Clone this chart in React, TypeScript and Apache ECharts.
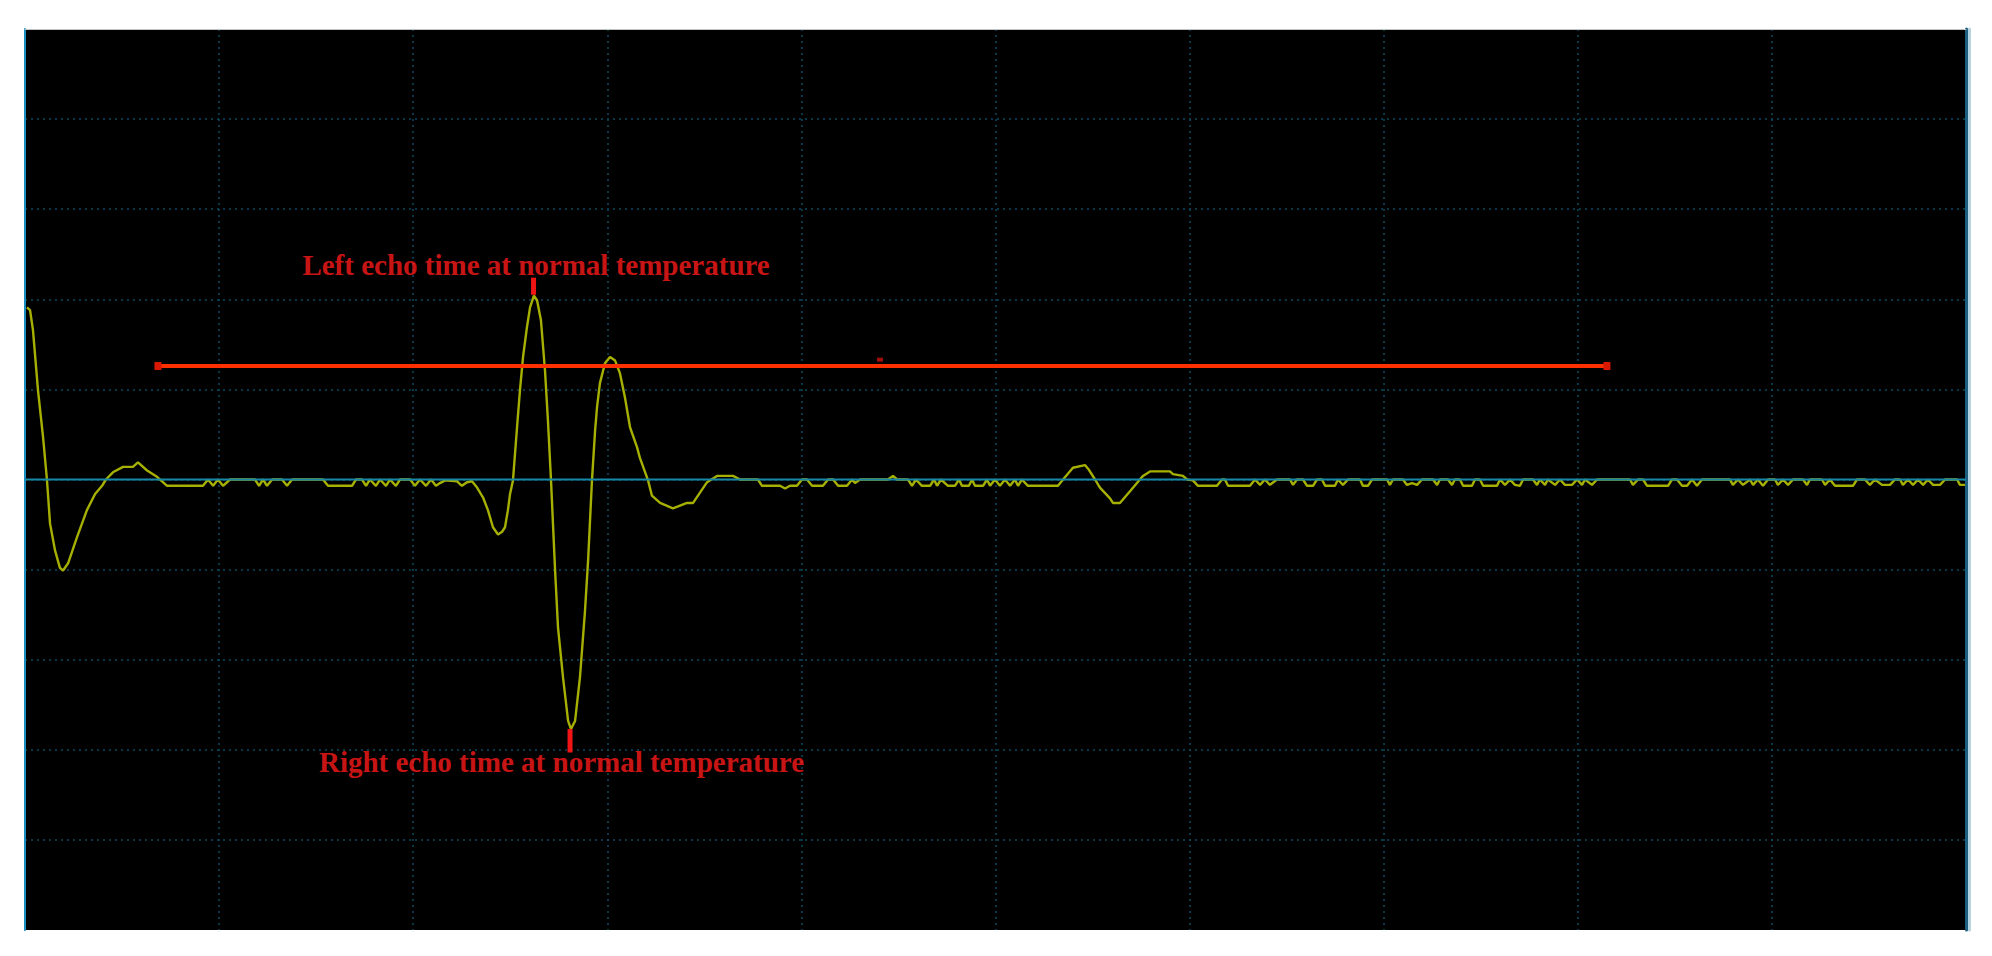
import React, { useEffect, useRef } from "react";
import * as echarts from "echarts";

// x: sample time (0..1000, 100 per division); y: amplitude (100 per division)
const initialPulse: [number, number][] = [
  [1.0, 191], [2.6, 188], [4.1, 166], [6.7, 99], [9.3, 47], [11.3, 0], [12.9, -49], [15.5, -79],
  [18.0, -98], [19.6, -101], [22.2, -93], [26.8, -64], [31.9, -34], [36.1, -16], [39.7, -7], [41.7, 0],
  [45.3, 8], [50.5, 14], [55.6, 14], [58.2, 19], [62.9, 10], [68.0, 3], [73.2, -7], [91.7, -7],
];

const noiseBeforeEcho: [number, number][] = [
  [94.3, 0], [96.9, -7], [99.4, 0], [102.0, -7], [105.6, 0], [118.5, 0], [120.6, -7], [122.6, 0],
  [124.7, -7], [127.3, 0], [132.4, 0], [135.0, -7], [137.6, 0], [153.5, 0], [156.1, -7], [168.5, -7],
  [170.5, 0], [173.6, 0], [175.7, -7], [177.7, 0], [180.8, -7], [182.9, 0], [186.0, -7], [188.0, 0],
  [191.1, -7], [193.2, 0], [198.4, 0], [200.9, -7], [203.5, 0], [206.6, -7], [209.2, 0], [211.7, -7],
  [213.8, -4], [216.4, -1], [222.6, -2], [225.1, -7], [227.7, -3], [230.3, -2], [232.9, -9],
];

const mainEcho: [number, number][] = [
  [236.0, -20], [238.5, -34], [241.1, -53], [243.7, -61], [245.8, -58], [247.3, -53], [248.8, -34],
  [249.9, -16], [251.4, -1], [253.5, 58], [255.0, 99], [256.6, 136], [258.6, 169], [260.2, 191],
  [262.2, 204], [263.8, 199], [265.8, 177], [267.9, 121], [269.4, 66], [271.0, -1], [273.1, -101],
  [274.6, -164], [277.2, -220], [279.8, -268], [281.3, -277], [283.4, -268], [285.9, -220],
  [288.5, -146], [290.1, -90], [292.1, -1], [293.7, 54], [294.7, 80], [296.2, 107], [298.8, 129],
  [301.4, 136], [304.0, 132], [306.5, 118], [309.1, 91], [311.7, 58], [315.3, 36], [316.8, 24],
  [321.0, -1], [323.0, -18], [327.2, -26], [333.8, -32], [341.1, -26], [344.2, -26], [351.4, -3],
  [356.5, 4], [364.8, 4], [368.4, 0],
];

const noiseMiddle: [number, number][] = [
  [377.6, 0], [379.7, -7], [389.0, -7], [391.6, -10], [394.1, -7], [397.7, -7], [400.3, 0], [402.9, 0],
  [405.5, -7], [411.1, -7], [413.7, 0], [416.3, 0], [418.9, -7], [423.5, -7], [426.1, 0], [427.6, -4],
  [430.2, 0], [444.6, 0], [447.2, 4], [449.3, 0], [454.9, 0], [457.0, -7], [459.0, 0], [462.1, -7],
  [466.3, -7], [468.3, 0], [469.9, -7], [471.9, 0], [475.5, -7], [479.1, -7], [481.2, 0], [482.7, -7],
  [486.3, -7], [487.9, 0], [489.4, -7], [493.6, -7], [495.6, 0], [497.2, -7], [499.7, 0], [502.3, -7],
  [504.9, 0], [507.5, -7], [510.0, 0], [511.6, -7], [513.6, 0], [516.7, -7], [532.2, -7], [534.8, 0],
];

const secondEcho: [number, number][] = [
  [539.9, 13], [546.1, 16], [547.7, 12], [551.3, 0], [553.8, -9], [559.0, -21], [560.5, -26],
  [564.1, -26], [569.3, -13], [574.4, 0], [576.0, 4], [579.6, 9], [589.9, 9], [591.4, 6], [596.6, 4],
  [598.7, 0], [601.7, -1], [604.3, -7],
];

const noiseTail: [number, number][] = [
  [614.1, -7], [616.7, 0], [618.2, 0], [619.8, -7], [631.1, -7], [633.7, 0], [636.3, -6], [638.8, 0],
  [641.4, -6], [645.0, 0], [651.7, 0], [653.3, -6], [655.3, 0], [658.4, 0], [660.5, -7], [663.6, -7],
  [665.6, 0], [668.2, 0], [669.8, -7], [674.9, -7], [676.4, 0], [679.0, -6], [681.6, 0], [687.8, 0],
  [689.3, -7], [691.9, -7], [694.0, 0], [701.7, 0], [703.2, -6], [704.8, 0], [709.9, 0], [712.0, -6],
  [714.6, -4], [717.2, -6], [719.7, 0], [725.4, 0], [727.5, -6], [729.0, 0], [733.1, 0], [735.2, -6],
  [736.7, 0], [739.3, 0], [740.9, -7], [745.5, -7], [747.0, 0], [749.6, 0], [751.2, -7], [758.4, -7],
  [759.9, 0], [762.5, -6], [765.1, 0], [767.6, -6], [770.2, -7], [771.8, 0], [776.9, 0], [779.0, -6],
  [780.5, 0], [783.1, -6], [784.6, 0], [788.3, -6], [790.8, 0], [793.4, -6], [797.0, -6], [799.6, 0],
  [802.2, -6], [803.7, 0], [807.3, -6], [809.9, 0], [826.9, 0], [828.4, -6], [831.0, 0], [833.6, 0],
  [835.7, -7], [846.5, -7], [848.5, 0], [851.1, 0], [853.7, -7], [856.3, -7], [858.8, 0], [861.4, -7],
  [864.0, 0], [878.4, 0], [879.9, -6], [882.5, 0], [885.1, -6], [888.7, 0], [890.3, -6], [892.8, 0],
  [895.4, -7], [898.0, 0], [901.6, 0], [903.1, -6], [905.7, 0], [908.3, -6], [910.9, 0], [916.0, 0],
  [918.1, -6], [919.6, 0], [925.8, 0], [927.4, -6], [929.9, 0], [932.5, -7], [941.8, -7], [943.8, 0],
  [947.9, 0], [950.5, -6], [953.1, 0], [956.7, -6], [960.8, -6], [963.4, 0], [966.0, 0], [967.5, -6],
  [970.1, 0], [972.7, -6], [975.3, 0], [977.9, -6], [980.4, 0], [983.0, -6], [986.6, -6], [989.2, 0],
  [995.4, 0], [996.9, -6], [999.5, -6],
];

const echoSpan: [number, number][] = [[68.5, 126], [815.0, 126]];
const spanMidMark: [number, number][] = [[440.5, 133]];
const leftEchoMarker: [number, number][] = [[262.0, 205], [262.0, 224]];
const rightEchoMarker: [number, number][] = [[280.8, -277], [280.8, -303]];
const annotationTexts = ["Left echo time at normal temperature", "Right echo time at normal temperature"];
const annotationPositions: [number, number][] = [[263.3, 238], [276.4, -314]];

const X_MIN = 0, X_MAX = 1000, X_STEP = 100;
const Y_MIN = -500, Y_MAX = 500, Y_STEP = 100;

export default function App() {
  const ref = useRef<HTMLDivElement>(null);
  useEffect(() => {
    if (!ref.current) return;
    const chart = echarts.init(ref.current, undefined, { renderer: "svg" });
    const waveform = [
      ...initialPulse, ...noiseBeforeEcho, ...mainEcho, ...noiseMiddle, ...secondEcho, ...noiseTail,
    ];
    const gridLine = { show: true, lineStyle: { color: "#0e4a60", width: 1.5, type: [2, 4] as any } };
    chart.setOption({
      animation: false,
      backgroundColor: "#ffffff",
      grid: { left: 25, right: 26, top: 29, bottom: 26, show: true, backgroundColor: "#000000", borderWidth: 0 },
      xAxis: [
        {
          type: "value", min: X_MIN, max: X_MAX, interval: X_STEP,
          axisLine: { show: false }, axisTick: { show: false }, axisLabel: { show: false },
          splitLine: { ...gridLine, showMinLine: false, showMaxLine: false },
        },
        {
          type: "value", position: "top", min: X_MIN, max: X_MAX, interval: X_STEP,
          axisLine: { show: true, onZero: false, lineStyle: { color: "#c4c4c4", width: 1 } },
          axisTick: { show: false }, axisLabel: { show: false }, splitLine: { show: false },
        },
      ],
      yAxis: [
        {
          type: "value", min: Y_MIN, max: Y_MAX, interval: Y_STEP,
          axisLine: { show: true, onZero: false, lineStyle: { color: "#1a8ec0", width: 2 } },
          axisTick: { show: false }, axisLabel: { show: false },
          splitLine: { ...gridLine, showMinLine: false, showMaxLine: false },
        },
        {
          type: "value", position: "right", min: Y_MIN, max: Y_MAX, interval: Y_STEP,
          axisLine: { show: true, onZero: false, lineStyle: { color: "#1c5f7e", width: 3 } },
          axisTick: { show: false }, axisLabel: { show: false }, splitLine: { show: false },
        },
        {
          type: "value", position: "right", offset: 3, min: Y_MIN, max: Y_MAX, interval: Y_STEP,
          axisLine: { show: true, onZero: false, lineStyle: { color: "#b6d3e2", width: 3 } },
          axisTick: { show: false }, axisLabel: { show: false }, splitLine: { show: false },
        },
      ],
      series: [
        {
          type: "line", name: "echo", data: waveform, showSymbol: false, symbol: "none",
          lineStyle: { color: "#a6b000", width: 2.4 }, z: 2, silent: true,
        },
        {
          type: "line", name: "zero", data: [[X_MIN, 0], [X_MAX, 0]], showSymbol: false, symbol: "none",
          lineStyle: { color: "#1788a8", width: 2 }, z: 3, silent: true,
        },
        {
          type: "line", name: "span", data: echoSpan, symbol: "rect", symbolSize: [7, 8], showSymbol: true,
          itemStyle: { color: "#d81800" }, lineStyle: { color: "#ff3000", width: 4 }, z: 4, silent: true,
        },
        {
          type: "scatter", name: "mid", data: spanMidMark, symbol: "rect", symbolSize: [6, 4],
          itemStyle: { color: "#d01010" }, z: 4, silent: true,
        },
        {
          type: "line", name: "leftMarker", data: leftEchoMarker, symbol: "none",
          lineStyle: { color: "#f01414", width: 5 }, z: 5, silent: true,
        },
        {
          type: "line", name: "rightMarker", data: rightEchoMarker, symbol: "none",
          lineStyle: { color: "#f01414", width: 5 }, z: 5, silent: true,
        },
        {
          type: "scatter", name: "labels", symbolSize: 1, silent: true, z: 6,
          itemStyle: { color: "rgba(0,0,0,0)" },
          data: annotationTexts.map((t, i) => ({ name: t, value: annotationPositions[i] })),
          label: {
            show: true, position: "inside", formatter: "{b}", color: "#ff1a1a",
            fontFamily: "Liberation Serif", fontWeight: "bold", fontSize: 29,
          },
        },
      ],
    });
    return () => chart.dispose();
  }, []);
  return <div ref={ref} style={{ position: "fixed", left: 0, top: 0, width: 1992, height: 956 }} />;
}
